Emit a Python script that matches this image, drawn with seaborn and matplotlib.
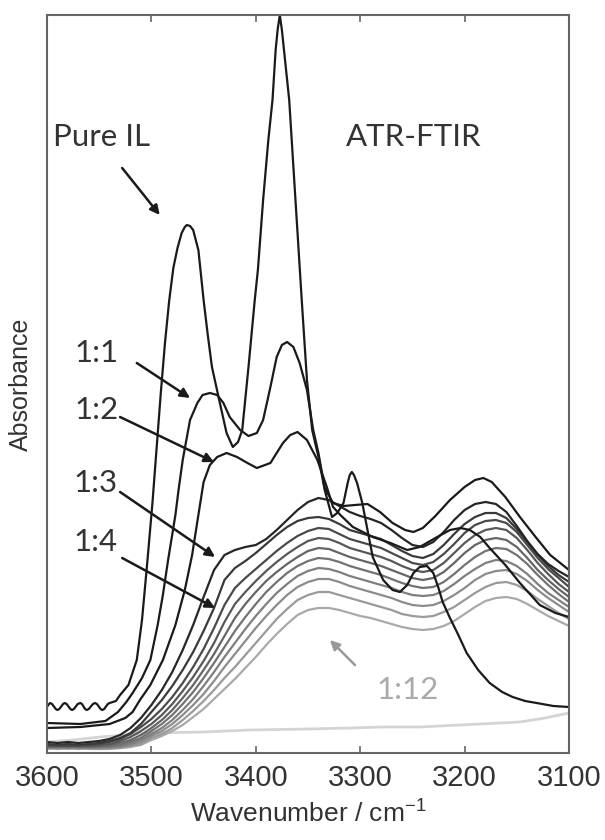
import matplotlib
matplotlib.use("Agg")
import matplotlib.pyplot as plt
import seaborn as sns

# ATR-FTIR spectra, absorbance in arbitrary milli-units
wn_grid = list(range(3600, 3099, -10))

pure_wn = [3600, 3598.5, 3597, 3595.2, 3593.4, 3591.6, 3590, 3588.2, 3586.4, 3584.6,
           3583, 3581.2, 3579.4, 3577.6, 3576, 3574.2, 3572.4, 3570.6, 3568, 3566.5,
           3565, 3563.5, 3562, 3560, 3558, 3556, 3554, 3552.2, 3550.4, 3548.7, 3547,
           3545.2, 3543.5, 3541.7, 3540, 3537, 3534, 3530, 3522,
           3514, 3509, 3504, 3499, 3495, 3491, 3487, 3483, 3479, 3475, 3471, 3468, 3466,
           3463, 3460, 3455, 3450, 3446, 3442, 3434, 3428, 3422, 3417, 3413, 3407, 3401,
           3398, 3393, 3388, 3384, 3381, 3379, 3377, 3375, 3373, 3368, 3362, 3356, 3351,
           3346, 3340, 3334, 3327, 3322, 3316, 3312, 3310, 3308, 3306, 3303, 3298, 3293,
           3288, 3278, 3269, 3262, 3255, 3249, 3243, 3236, 3230, 3225, 3221, 3214, 3206,
           3198, 3187, 3176, 3164, 3154, 3142, 3131, 3115, 3100]
pure_il = [46, 48.5, 50, 49, 46.5, 44, 43, 44, 46.5, 49,
           50, 49, 46.5, 44, 43, 44, 46.5, 49, 50, 49,
           46.5, 44, 43, 44, 46.5, 49, 50, 49, 46.5, 44, 43,
           44, 46.5, 49, 50, 51, 52, 58, 68,
           93, 133, 190, 250, 305, 360, 410, 452, 485, 505, 520, 526, 528,
           527, 523, 503, 453, 418, 386, 348, 320, 306, 311, 323, 386, 453,
           483, 553, 613, 653, 703, 724, 738, 723, 703, 653, 553, 453, 373,
           323, 296, 263, 236, 240, 250, 270, 278, 281, 278, 270, 250, 223,
           196, 173, 163, 161, 168, 180, 186, 187, 180, 165, 151, 135, 118,
           100, 83, 70, 61, 56, 52, 50, 47, 46]

r1_wn = [3600, 3568, 3544, 3532, 3524, 3518, 3509, 3501, 3494, 3489, 3484, 3477, 3474,
         3470, 3463, 3456, 3451, 3444, 3437, 3431, 3425, 3415, 3407, 3399, 3393, 3386,
         3380, 3375, 3370, 3364, 3358, 3351, 3345, 3340, 3334, 3326, 3316, 3305, 3293,
         3281, 3269, 3257, 3249, 3240, 3228, 3214, 3200, 3190, 3182, 3174, 3161, 3147,
         3132, 3118, 3100]
r1_1 = [30, 29, 32, 41, 51, 60, 75, 93, 128, 158, 193, 238, 263,
        293, 333, 350, 358, 360, 358, 350, 336, 323, 317, 320, 333, 366,
        396, 408, 411, 406, 390, 363, 323, 300, 265, 250, 247, 248, 249,
        241, 230, 223, 221, 225, 237, 253, 266, 273, 275, 271, 256, 236,
        216, 198, 183]

r2_wn = [3600, 3568, 3540, 3525, 3518, 3511, 3501, 3489, 3477, 3468, 3461, 3455, 3450,
         3444, 3437, 3428, 3418, 3408, 3399, 3386, 3374, 3367, 3360, 3351, 3341, 3332,
         3326, 3319, 3307, 3288, 3271, 3255, 3243, 3228, 3214, 3204, 3195, 3185, 3176,
         3161, 3147, 3128, 3113, 3100]
r1_2 = [25, 26, 29, 35, 41, 53, 68, 93, 128, 163, 198, 238, 271,
        288, 296, 300, 296, 290, 285, 290, 310, 318, 321, 313, 293, 266,
        246, 238, 226, 216, 210, 203, 206, 215, 223, 225, 223, 216, 205,
        188, 170, 148, 140, 136]

r1_3 = [11, 10, 11, 10, 11, 12, 14, 18, 25, 35, 48, 63, 81, 103, 128, 156, 183, 198, 203,
        206, 208, 214, 223, 233, 243, 251, 255, 253, 247, 241, 237, 234, 230, 223, 215,
        208, 206, 211, 221, 233, 243, 249, 251, 249, 241, 227, 212, 199, 189, 182, 176]
r1_4 = [9, 8, 9, 8, 9, 10, 12, 15, 20, 29, 41, 53, 67, 83, 101, 122, 145, 173, 185, 192,
        200, 209, 218, 226, 232, 235, 236, 234, 229, 223, 220, 217, 214, 208, 202, 197,
        195, 199, 208, 219, 229, 236, 240, 240, 235, 224, 211, 198, 187, 178, 171]
r1_5 = [7, 8, 7, 8, 8, 9, 11, 14, 19, 26, 34, 44, 56, 70, 86, 104, 125, 148, 165, 175,
        184, 193, 202, 210, 217, 222, 225, 224, 219, 214, 211, 208, 205, 200, 195, 190,
        188, 191, 199, 209, 220, 228, 232, 233, 230, 221, 208, 195, 184, 175, 166]
r1_6 = [8, 7, 8, 7, 7, 8, 9, 12, 16, 22, 29, 38, 49, 62, 76, 92, 110, 131, 149, 161,
        172, 182, 191, 199, 206, 212, 215, 214, 210, 205, 202, 199, 196, 192, 187, 183,
        181, 183, 190, 200, 210, 218, 223, 225, 223, 215, 203, 190, 179, 169, 161]
r1_7 = [7, 6, 7, 6, 7, 7, 8, 10, 13, 18, 25, 33, 43, 55, 68, 83, 99, 117, 135, 149,
        161, 172, 181, 189, 196, 202, 205, 204, 200, 196, 193, 190, 187, 183, 179, 175,
        173, 175, 181, 190, 200, 208, 213, 215, 213, 206, 195, 183, 173, 164, 156]
r1_8 = [6, 7, 6, 7, 6, 6, 7, 8, 11, 15, 22, 29, 38, 49, 61, 75, 90, 106, 122, 136,
        149, 161, 171, 180, 187, 192, 195, 194, 191, 187, 184, 181, 178, 174, 170, 167,
        165, 166, 171, 179, 188, 196, 202, 205, 204, 198, 189, 178, 168, 159, 151]
r1_9 = [5, 6, 5, 6, 5, 6, 6, 7, 9, 13, 19, 25, 33, 43, 54, 67, 81, 96, 110, 124,
        137, 149, 160, 169, 177, 182, 185, 184, 181, 177, 174, 171, 168, 165, 161, 158,
        157, 158, 162, 169, 177, 184, 190, 193, 192, 187, 179, 169, 160, 153, 146]
r1_10 = [6, 5, 6, 5, 5, 5, 5, 6, 8, 11, 17, 22, 29, 38, 48, 59, 72, 86, 99, 112,
         125, 137, 148, 158, 166, 171, 174, 174, 171, 167, 164, 161, 158, 155, 151, 148,
         147, 148, 152, 158, 165, 173, 179, 182, 183, 179, 172, 163, 155, 148, 141]
r1_11 = [5, 4, 5, 4, 5, 4, 5, 5, 7, 9, 15, 19, 25, 33, 42, 52, 63, 75, 86, 98,
         110, 122, 134, 144, 153, 158, 161, 161, 158, 155, 152, 149, 146, 143, 139, 137,
         136, 137, 141, 146, 153, 160, 166, 170, 171, 168, 162, 154, 147, 140, 134]
r1_12 = [4, 5, 4, 5, 4, 4, 4, 5, 6, 8, 13, 17, 22, 28, 36, 44, 54, 64, 74, 85,
         96, 108, 119, 129, 138, 143, 145, 145, 143, 140, 137, 135, 132, 129, 126, 124,
         123, 124, 127, 132, 139, 146, 152, 155, 156, 154, 149, 143, 137, 132, 127]

blank_wn = [3600, 3575, 3549, 3501, 3450, 3406, 3350, 3310, 3280, 3243, 3185, 3147, 3123, 3100]
blank = [11, 13, 16, 20, 21, 23, 24, 25, 26, 26, 29, 31, 35, 40]

family = [r1_3, r1_4, r1_5, r1_6, r1_7, r1_8, r1_9, r1_10, r1_11, r1_12]
family_colors = ["#262626", "#3a3a3a", "#4a4a4a", "#585858", "#656565",
                 "#727272", "#7f7f7f", "#8c8c8c", "#9a9a9a", "#a9a9a9"]
dark = "#1a1a1a"

sns.set_style("white")
plt.rcParams["font.family"] = ["Liberation Sans", "DejaVu Sans"]
plt.rcParams["mathtext.fontset"] = "custom"
plt.rcParams["mathtext.rm"] = "Liberation Sans"

fig = plt.figure(figsize=(6.05, 8.4), dpi=100)
ax = fig.add_axes([47 / 605, 1 - 753 / 840, 522 / 605, 738 / 840])

lw = 1.6
sns.lineplot(x=blank_wn, y=blank, color="#d4d4d4", lw=2.0, ax=ax, estimator=None)
for vals, c in reversed(list(zip(family, family_colors))):
    sns.lineplot(x=wn_grid, y=vals, color=c, lw=lw, ax=ax, estimator=None)
sns.lineplot(x=r2_wn, y=r1_2, color=dark, lw=lw, ax=ax, estimator=None)
sns.lineplot(x=r1_wn, y=r1_1, color=dark, lw=lw, ax=ax, estimator=None)
sns.lineplot(x=pure_wn, y=pure_il, color=dark, lw=lw, ax=ax, estimator=None)

ax.set_xlim(3600, 3100)
ax.set_ylim(0, 738)
ax.set_xticks([3600, 3500, 3400, 3300, 3200, 3100])
ax.set_yticks([])
ax.tick_params(axis="x", direction="in", top=True, bottom=True, length=5,
               width=1.2, color="#666666", labelsize=21, labelcolor="#333333", pad=8)
for s in ax.spines.values():
    s.set_color("#666666")
    s.set_linewidth(1.5)

ax.set_xlabel(r"Wavenumber / cm$^{\mathregular{-1}}$", fontsize=19, color="#333333", labelpad=5)
ax.set_ylabel("Absorbance", fontsize=18, color="#333333", labelpad=10)

lab = dict(family=["Lato", "DejaVu Sans"], fontsize=22.5, va="center", ha="left")
ax.text(3594, 616, "Pure IL", color="#333333", **lab)
ax.text(3314, 616, "ATR-FTIR", color="#333333", **lab)
ax.text(3574, 400, "1:1", color="#333333", **lab)
ax.text(3574, 343, "1:2", color="#333333", **lab)
ax.text(3575, 270, "1:3", color="#333333", **lab)
ax.text(3575, 211, "1:4", color="#333333", **lab)
ax.text(3284, 63, "1:12", color="#aaaaaa", **lab)

arrows = [((3528, 585), (3492, 538)),
          ((3514, 390), (3463, 355)),
          ((3530, 336), (3440, 291)),
          ((3530, 261), (3439, 196)),
          ((3528, 195), (3439, 145))]
for start, tip in arrows:
    ax.annotate("", xy=tip, xytext=start,
                arrowprops=dict(arrowstyle="-|>", color=dark, lw=1.8,
                                mutation_scale=14, shrinkA=0, shrinkB=0))
ax.annotate("", xy=(3329, 113), xytext=(3305, 88),
            arrowprops=dict(arrowstyle="-|>", color="#999999", lw=1.8,
                            mutation_scale=14, shrinkA=0, shrinkB=0))

fig.savefig("out.png", dpi=100)
